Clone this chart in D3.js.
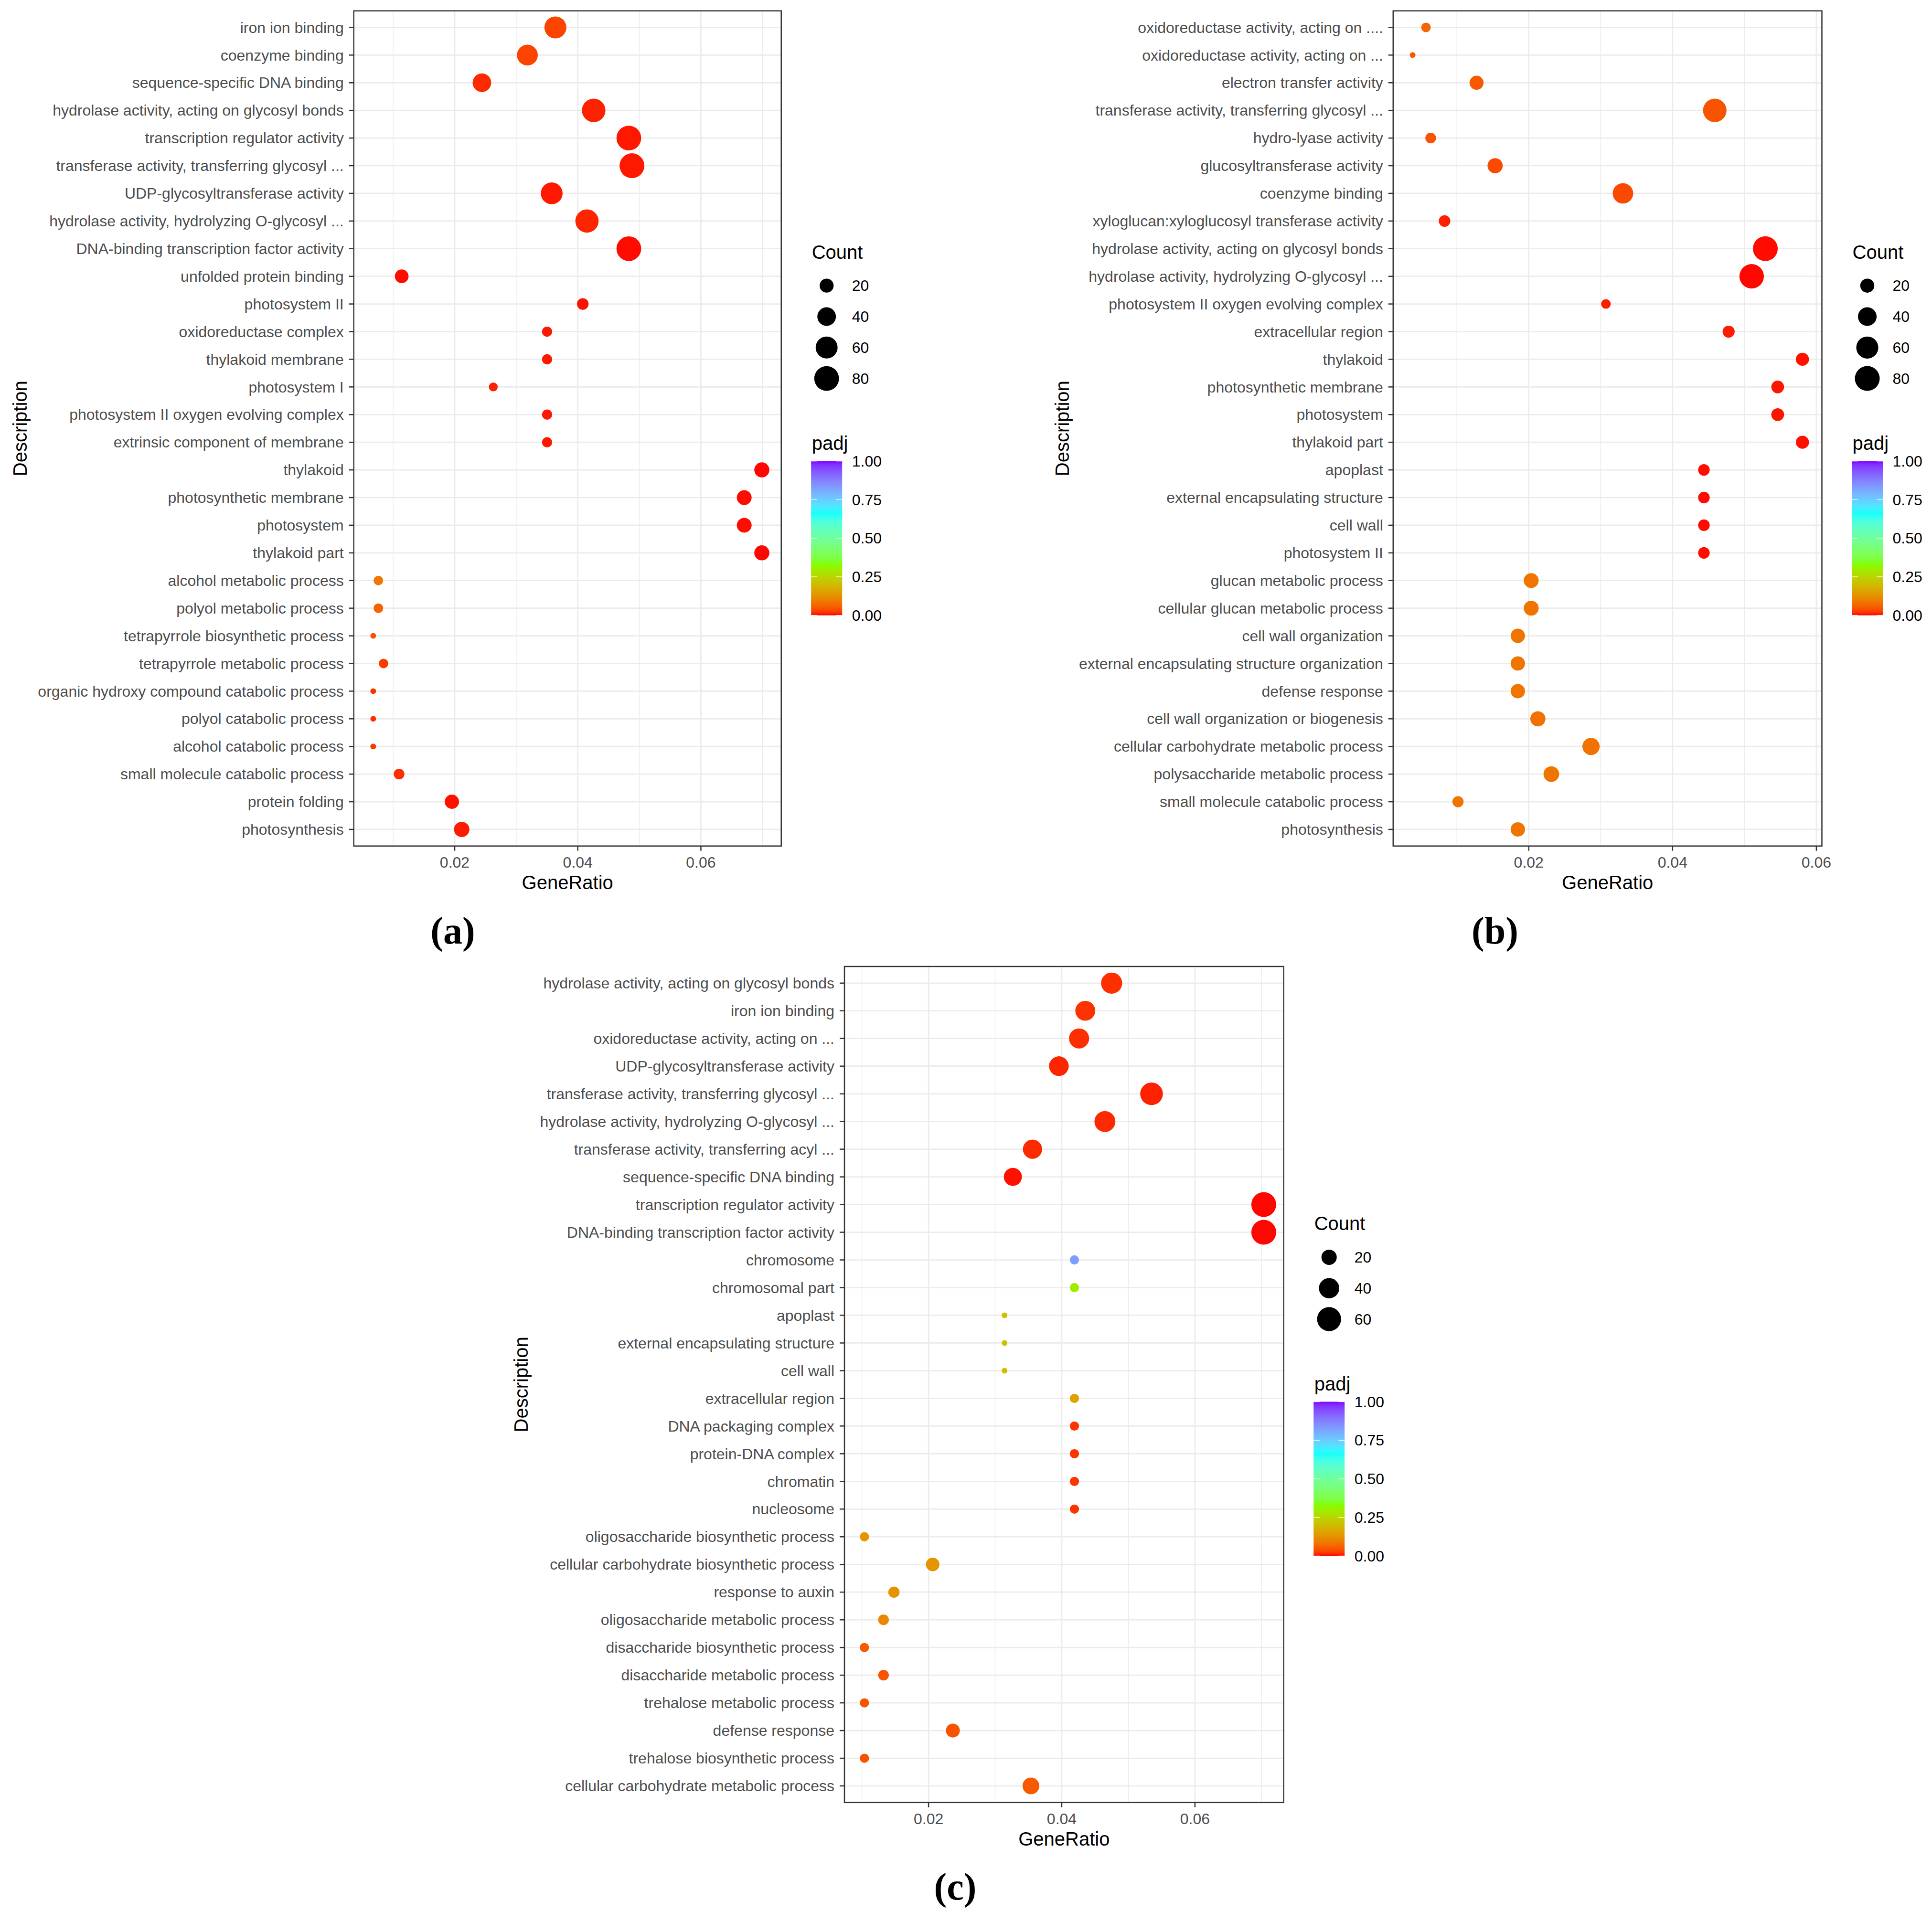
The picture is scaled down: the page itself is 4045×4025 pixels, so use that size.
<!DOCTYPE html>
<html>
<head>
<meta charset="utf-8">
<script src="https://cdnjs.cloudflare.com/ajax/libs/d3/7.8.5/d3.min.js"></script>
<style>
  body { margin: 0; background: #fff; }
  svg { display: block; }
  text { font-family: "Liberation Sans", Arial, sans-serif; }
</style>
</head>
<body>
<div id="viz"></div>
<script>

// ---- panel (a) ----
var termsA = ["iron ion binding", "coenzyme binding", "sequence-specific DNA binding",
  "hydrolase activity, acting on glycosyl bonds", "transcription regulator activity",
  "transferase activity, transferring glycosyl ...", "UDP-glycosyltransferase activity",
  "hydrolase activity, hydrolyzing O-glycosyl ...", "DNA-binding transcription factor activity",
  "unfolded protein binding", "photosystem II", "oxidoreductase complex", "thylakoid membrane",
  "photosystem I", "photosystem II oxygen evolving complex", "extrinsic component of membrane",
  "thylakoid", "photosynthetic membrane", "photosystem", "thylakoid part",
  "alcohol metabolic process", "polyol metabolic process", "tetrapyrrole biosynthetic process",
  "tetrapyrrole metabolic process", "organic hydroxy compound catabolic process",
  "polyol catabolic process", "alcohol catabolic process", "small molecule catabolic process",
  "protein folding", "photosynthesis"];
var ratioA = [0.03636, 0.03181, 0.02442, 0.04258, 0.04829, 0.0488, 0.03576, 0.04149, 0.04829, 0.01139,
  0.04081, 0.03501, 0.03501, 0.02627, 0.03501, 0.03501, 0.0699, 0.06704, 0.06704, 0.0699,
  0.0076, 0.0076, 0.00676, 0.00844, 0.00676, 0.00676, 0.00676, 0.01096, 0.01954, 0.02114];
var countA = [60, 53, 40, 71, 80, 81, 59, 69, 80, 19,
  13, 10, 10, 8, 10, 10, 24, 23, 23, 24,
  9, 9, 6, 9, 6, 6, 6, 11, 21, 25];
var padjA = [0.03, 0.03, 0.012, 0.008, 0.005, 0.005, 0.005, 0.01, 0.002, 0.002,
  0.003, 0.005, 0.005, 0.008, 0.005, 0.005, 0.001, 0.002, 0.002, 0.001,
  0.09, 0.06, 0.04, 0.025, 0.015, 0.015, 0.02, 0.015, 0.003, 0.006];

// ---- panel (b) ----
var termsB = ["oxidoreductase activity, acting on ....", "oxidoreductase activity, acting on ...",
  "electron transfer activity", "transferase activity, transferring glycosyl ...", "hydro-lyase activity",
  "glucosyltransferase activity", "coenzyme binding", "xyloglucan:xyloglucosyl transferase activity",
  "hydrolase activity, acting on glycosyl bonds", "hydrolase activity, hydrolyzing O-glycosyl ...",
  "photosystem II oxygen evolving complex", "extracellular region", "thylakoid", "photosynthetic membrane",
  "photosystem", "thylakoid part", "apoplast", "external encapsulating structure", "cell wall",
  "photosystem II", "glucan metabolic process", "cellular glucan metabolic process", "cell wall organization",
  "external encapsulating structure organization", "defense response", "cell wall organization or biogenesis",
  "cellular carbohydrate metabolic process", "polysaccharide metabolic process",
  "small molecule catabolic process", "photosynthesis"];
var ratioB = [0.00571, 0.00385, 0.01274, 0.04587, 0.00636, 0.01532, 0.0331, 0.00829, 0.0529, 0.051,
  0.03073, 0.0478, 0.05806, 0.05462, 0.05462, 0.05806, 0.04436, 0.04436, 0.04436, 0.04436,
  0.02034, 0.02034, 0.01848, 0.01848, 0.01848, 0.02127, 0.02866, 0.02314, 0.01016, 0.01848];
var countB = [9, 6, 20, 70, 11, 24, 50, 13, 80, 77,
  9, 14, 17, 16, 16, 17, 13, 13, 13, 13,
  23, 23, 21, 21, 21, 24, 33, 26, 12, 21];
var padjB = [0.065, 0.05, 0.05, 0.045, 0.045, 0.035, 0.035, 0.008, 0.002, 0.001,
  0.006, 0.006, 0.003, 0.004, 0.004, 0.003, 0.002, 0.002, 0.002, 0.002,
  0.085, 0.085, 0.085, 0.085, 0.085, 0.08, 0.08, 0.085, 0.085, 0.085];

// ---- panel (c) ----
var termsC = ["hydrolase activity, acting on glycosyl bonds", "iron ion binding",
  "oxidoreductase activity, acting on ...", "UDP-glycosyltransferase activity",
  "transferase activity, transferring glycosyl ...", "hydrolase activity, hydrolyzing O-glycosyl ...",
  "transferase activity, transferring acyl ...", "sequence-specific DNA binding",
  "transcription regulator activity", "DNA-binding transcription factor activity", "chromosome",
  "chromosomal part", "apoplast", "external encapsulating structure", "cell wall", "extracellular region",
  "DNA packaging complex", "protein-DNA complex", "chromatin", "nucleosome",
  "oligosaccharide biosynthetic process", "cellular carbohydrate biosynthetic process", "response to auxin",
  "oligosaccharide metabolic process", "disaccharide biosynthetic process", "disaccharide metabolic process",
  "trehalose metabolic process", "defense response", "trehalose biosynthetic process",
  "cellular carbohydrate metabolic process"];
var ratioC = [0.04749, 0.04353, 0.0426, 0.03957, 0.05348, 0.04648, 0.03561, 0.03266, 0.07033, 0.07033,
  0.0419, 0.0419, 0.03141, 0.03141, 0.03141, 0.0419, 0.0419, 0.0419, 0.0419, 0.0419,
  0.01037, 0.02062, 0.0148, 0.01324, 0.01037, 0.01324, 0.01037, 0.02365, 0.01037, 0.03537];
var countC = [44, 38, 39, 37, 52, 43, 35, 30, 65, 65,
  7, 7, 5, 5, 5, 7, 7, 7, 7, 7,
  7, 15, 10, 9, 7, 9, 7, 16, 7, 25];
var padjC = [0.015, 0.017, 0.015, 0.01, 0.008, 0.012, 0.012, 0.003, 0.001, 0.001,
  0.83, 0.29, 0.21, 0.21, 0.21, 0.155, 0.018, 0.018, 0.018, 0.018,
  0.13, 0.13, 0.13, 0.11, 0.05, 0.045, 0.045, 0.045, 0.045, 0.05];

// axis / legend labels
var xMajor = [0.02, 0.04, 0.06];
var xMinor = [0.01, 0.03, 0.05, 0.07];
var countBreaksAB = [20, 40, 60, 80];
var countBreaksC = [20, 40, 60];
var padjBreaks = [0, 0.25, 0.5, 0.75, 1];
var padjLabels = ["0.00", "0.25", "0.50", "0.75", "1.00"];

var W = 4045, H = 4025;
var svg = d3.select("#viz").append("svg").attr("width", W).attr("height", H);

// rainbow(4) gradient, interpolated in Lab like ggplot
var colorScale = d3.scaleLinear()
    .domain([0, 1/3, 2/3, 1])
    .range(["#FF0000", "#80FF00", "#00FFFF", "#8000FF"])
    .interpolate(d3.interpolateLab);

var grad = svg.append("defs").append("linearGradient")
    .attr("id", "padjGrad").attr("x1", 0).attr("y1", 1).attr("x2", 0).attr("y2", 0);
grad.selectAll("stop").data(d3.range(0, 1.0001, 0.02)).enter().append("stop")
    .attr("offset", function(d){ return d; })
    .attr("stop-color", function(d){ return colorScale(d); });

var panels = [
  {terms: termsA, ratio: ratioA, count: countA, padj: padjA, breaks: countBreaksAB,
   left: 740.7, right: 1635.7, top: 22.7, bottom: 1771.7, titleX: 56, tag: "(a)", tagX: 948, tagY: 1976},
  {terms: termsB, ratio: ratioB, count: countB, padj: padjB, breaks: countBreaksAB,
   left: 2916.8, right: 3814.5, top: 22.7, bottom: 1771.7, titleX: 2238, tag: "(b)", tagX: 3130, tagY: 1976},
  {terms: termsC, ratio: ratioC, count: countC, padj: padjC, breaks: countBreaksC,
   left: 1768, right: 2687.7, top: 2024, bottom: 3774.8, titleX: 1105, tag: "(c)", tagX: 2000, tagY: 3978}
];

panels.forEach(drawPanel);

function drawPanel(p){
  var g = svg.append("g");
  var data = p.terms.map(function(t, i){
    return {term: t, ratio: p.ratio[i], count: p.count[i], padj: p.padj[i]};
  });

  // x like ggplot: data range + 5% each side
  var ext = d3.extent(p.ratio), pad = (ext[1] - ext[0]) * 0.05;
  var x = d3.scaleLinear().domain([ext[0] - pad, ext[1] + pad]).range([p.left, p.right]);
  var y = d3.scalePoint().domain(p.terms).range([p.top, p.bottom]).padding(0.6);

  // size: ggplot area palette, diameter 12..52 px
  var lo = d3.min(p.count), hi = d3.max(p.count);
  var sz = d3.scaleSqrt().domain([0, hi - lo]).range([12, 52]);
  function diam(c){ return sz(Math.max(0, c - lo)); }

  var inX = function(v){ return v >= x.domain()[0] && v <= x.domain()[1]; };

  // grid
  g.selectAll(".gmin").data(xMinor.filter(inX)).enter().append("line")
      .attr("x1", x).attr("x2", x).attr("y1", p.top).attr("y2", p.bottom)
      .style("stroke", "#ebebeb").style("stroke-width", 1.4);
  g.selectAll(".gmaj").data(xMajor.filter(inX)).enter().append("line")
      .attr("x1", x).attr("x2", x).attr("y1", p.top).attr("y2", p.bottom)
      .style("stroke", "#ebebeb").style("stroke-width", 2.7);
  g.selectAll(".gy").data(p.terms).enter().append("line")
      .attr("x1", p.left).attr("x2", p.right).attr("y1", y).attr("y2", y)
      .style("stroke", "#ebebeb").style("stroke-width", 2.7);

  // points
  g.selectAll("circle.pt").data(data).enter().append("circle")
      .attr("class", "pt")
      .attr("cx", function(d){ return x(d.ratio); })
      .attr("cy", function(d){ return y(d.term); })
      .attr("r", function(d){ return diam(d.count) / 2; })
      .style("fill", function(d){ return colorScale(d.padj); });

  // border
  g.append("rect").attr("x", p.left).attr("y", p.top)
      .attr("width", p.right - p.left).attr("height", p.bottom - p.top)
      .style("fill", "none").style("stroke", "#333333").style("stroke-width", 2.5);

  // y axis
  g.selectAll(".yt").data(p.terms).enter().append("line")
      .attr("x1", p.left - 10).attr("x2", p.left).attr("y1", y).attr("y2", y)
      .style("stroke", "#333333").style("stroke-width", 2.5);
  g.selectAll(".yl").data(p.terms).enter().append("text")
      .attr("x", p.left - 21).attr("y", y)
      .attr("dy", "0.35em")
      .style("text-anchor", "end").style("font-size", "32px").style("fill", "#4d4d4d")
      .text(function(d){ return d; });

  // x axis
  var xt = xMajor.filter(inX);
  g.selectAll(".xt").data(xt).enter().append("line")
      .attr("x1", x).attr("x2", x).attr("y1", p.bottom).attr("y2", p.bottom + 10)
      .style("stroke", "#333333").style("stroke-width", 2.5);
  g.selectAll(".xl").data(xt).enter().append("text")
      .attr("x", x).attr("y", p.bottom + 45)
      .style("text-anchor", "middle").style("font-size", "32px").style("fill", "#4d4d4d")
      .text(d3.format(".2f"));

  // axis titles
  g.append("text").attr("x", (p.left + p.right) / 2).attr("y", p.bottom + 90)
      .style("text-anchor", "middle").style("font-size", "40px").style("fill", "#000")
      .text("GeneRatio");
  g.append("text")
      .attr("transform", "translate(" + p.titleX + "," + ((p.top + p.bottom) / 2) + ") rotate(-90)")
      .style("text-anchor", "middle").style("font-size", "40px").style("fill", "#000")
      .text("Description");

  // legends
  var lx = p.right + 64;
  var midY = (p.top + p.bottom) / 2;
  var cntY = midY - 323 - (p.breaks.length - 3) * 32.5;
  g.append("text").attr("x", lx).attr("y", cntY)
      .style("font-size", "40px").style("fill", "#000").text("Count");
  var keys = g.selectAll(".key").data(p.breaks).enter().append("g")
      .attr("transform", function(d, i){ return "translate(0," + (cntY + 56.5 + i * 64.8) + ")"; });
  keys.append("circle").attr("cx", lx + 31).attr("cy", 0)
      .attr("r", function(d){ return diam(d) / 2; }).style("fill", "#000");
  keys.append("text").attr("x", lx + 84).attr("y", 0).attr("dy", "0.35em")
      .style("font-size", "32px").style("fill", "#000").text(function(d){ return d; });

  var lastKey = cntY + 56.5 + (p.breaks.length - 1) * 64.8;
  var padjY = lastKey + 149;
  g.append("text").attr("x", lx).attr("y", padjY)
      .style("font-size", "40px").style("fill", "#000").text("padj");
  var barTop = padjY + 24, barBot = barTop + 323;
  var bx0 = lx - 1.5, bw = 65;
  var cb = d3.scaleLinear().domain([0, 1]).range([barBot, barTop]);
  g.append("rect").attr("x", bx0).attr("y", barTop).attr("width", bw).attr("height", barBot - barTop)
      .style("fill", "url(#padjGrad)");
  padjBreaks.forEach(function(v, i){
    g.append("line").attr("x1", bx0).attr("x2", bx0 + 13).attr("y1", cb(v)).attr("y2", cb(v))
        .style("stroke", "#fff").style("stroke-width", 1.5).style("opacity", 0.8);
    g.append("line").attr("x1", bx0 + bw - 13).attr("x2", bx0 + bw).attr("y1", cb(v)).attr("y2", cb(v))
        .style("stroke", "#fff").style("stroke-width", 1.5).style("opacity", 0.8);
    g.append("text").attr("x", lx + 84).attr("y", cb(v)).attr("dy", "0.35em")
        .style("font-size", "32px").style("fill", "#000").text(padjLabels[i]);
  });

  // panel tag
  g.append("text").attr("x", p.tagX).attr("y", p.tagY)
      .style("text-anchor", "middle")
      .style("font-family", "'Liberation Serif', 'Times New Roman', serif")
      .style("font-weight", "bold").style("font-size", "80px").style("fill", "#000")
      .text(p.tag);
}
</script>
</body>
</html>
